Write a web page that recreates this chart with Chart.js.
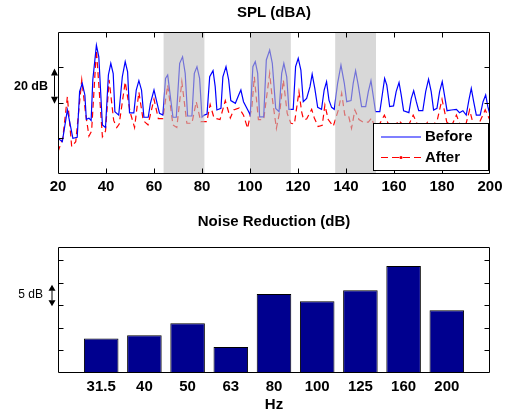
<!DOCTYPE html>
<html>
<head>
<meta charset="utf-8">
<script src="https://cdn.jsdelivr.net/npm/chart.js@4"></script>
<style>
  html, body { margin: 0; padding: 0; background: #fff; overflow: hidden; }
  canvas { position: absolute; left: 0; }
  #spl { top: 0; }
  #nr { top: 205px; }
</style>
</head>
<body>
<canvas id="spl" width="513" height="205"></canvas>
<canvas id="nr" width="513" height="207"></canvas>
<script>
const FONT = "'Liberation Sans', Arial, Helvetica, sans-serif";

// SPL spectrum (dBA, no numbers on the axis, 20 dB between ticks)
const beforeHz = [20,21.8,23.9,26.2,28,29,30.1,31.2,31.8,32.9,
  33.8,34.5,36,37,38.5,39.8,41,42,43,43.7,
  45.3,46.8,48,49,49.8,51.6,52.6,53.7,54.8,55.8,
  57.6,58.5,60,61.3,62.3,63.7,64.8,65.7,67.9,69.3,
  70.7,71.9,73,74,75.8,76.8,77.9,79,80,80.9,
  82.1,83.2,84.6,85.5,86.2,87.9,88.7,90,91.1,92,
  93.9,95.3,96.2,97.3,99.4,100.1,101.2,102.2,103.2,104,
  105.7,106.8,108.2,109.3,110.7,112.1,113.2,114.1,115.3,116.2,
  118,119,120.1,121.2,122.2,123.6,125,125.9,127,128.2,
  129.8,130.9,131.9,132.9,134,135.1,136.5,137.9,139.3,140.3,
  142.1,143,144,145.1,146.5,148.2,149.3,150.4,151.4,152.3,
  154.1,155.1,156.1,157,158.2,159.8,160.9,162.1,163,164,
  166.2,167.2,168.2,169.3,170.3,172,173.2,174.4,175.5,176.5,
  177.9,179,180.1,181.1,182.1,183.9,186,187.3,188.7,190.1,
  191.2,192.2,193.2,194.3,195.9,197.1,198.2,199.1,200];
const beforeDb = [19.9,18,35.9,19.9,20.5,46.3,51,44.4,30.6,31.3,
  30,52.9,72.6,66,27.4,26,55.7,62.3,56.5,34.9,
  33,54.7,63.2,57.5,34.3,34.3,47.2,52.5,47.2,31.8,
  31.8,39.7,47.2,39.7,34,33,53.8,55.7,31.8,31.8,
  62.3,66,56.6,32.5,32.5,56.6,60.4,53.8,31.8,33,
  33.6,54.7,58.1,49.1,35.9,36.8,54.7,60.4,53,41.2,
  39.7,44.4,47.2,40.6,35,33,60.4,63.2,56.6,32,
  32,64.2,69.8,62.3,36.8,35,56.6,62.3,54.7,36.3,
  36.3,60.4,65.1,58.5,40.6,42.5,49.1,56.2,48.1,37.4,
  36.3,47.2,51.9,41.5,37.4,36.3,51,61.3,51,40.6,
  41.2,51,58.1,50,37.8,37.8,46.3,52.5,43.4,35,
  35,44.4,53.8,50,37.8,38.2,46.3,51.4,44.4,35.5,
  34.4,42.5,46.8,40.6,35.5,35.5,46.3,53.3,46.3,35.9,
  36.8,46.3,51.9,43.8,35.5,35.9,36.3,34.4,35.5,33,
  41.5,48.1,40.6,33,33,40.6,44.4,37.8,33];

const afterHz = [20,22,23.9,25.7,27.4,29.9,31.5,32.9,34,36,
  38.5,39.8,41.3,43.2,44.5,45.5,48,50,51.9,53.7,
  55.5,57.5,60,61.8,63.7,65.7,67.9,69.5,71.6,73.7,
  75.8,77.6,79.5,82,83.4,85,87.5,89.7,91.8,93.2,
  95.5,97.3,99,100.8,101.8,103.5,105.7,108.2,109.2,111,
  112.5,113.9,115.5,117,118.5,120.4,121.5,122.3,123.6,125.7,
  126.8,128.4,130.1,131.2,132.6,134.7,136.8,138.2,139.5,141,
  142.3,143.7,145.4,147.2,149.3,150.7,152,154,156,158,
  160,162,164,166,168,170,172,174,176,178,
  180,182,184,186,188,190,191.5,193,195,198,200];
const afterDb = [12.3,20,43.4,15.2,18,52.9,34,21.2,24,69.8,
  20.8,24,52.9,30,26,28,51.7,35,26,46,
  30,27.5,42,31,31,50,27.4,26,51.9,28.4,
  28.4,40.6,29.3,29.3,39,31.4,30.5,41.2,31.4,35.9,
  37,33,25.5,37.8,54.7,30.5,30.5,56.6,43.4,25.5,
  35.9,52.9,34,28.4,28,46.3,35,30.5,30.8,36.3,
  31.4,26.5,27.2,38.7,30.5,26.7,35.9,45.3,33,33,
  25.5,35.9,30.5,29,29,31.4,26,28,33,27,
  26,30,27,27,33,27,26,29,27,30,
  42,29,27,33,26,28,36,28,27,36,30];

// shaded frequency ranges
const bandLo = [64, 100, 135.5];
const bandHi = [81, 117, 152.5];
const splTicks = [20, 40, 60];

// noise reduction per 1/3 octave band
const bandNames = ['31.5', '40', '50', '63', '80', '100', '125', '160', '200'];
const reduction = [7.6, 8.3, 11, 5.7, 17.5, 15.9, 18.3, 23.7, 13.9];
const nrTicks = [5, 10, 15, 20, 25];

const tickFont = { family: FONT, size: 15, weight: 'bold', lineHeight: 1.2 };

function arrow(ctx, x, y1, y2, head, half) {
  ctx.beginPath();
  ctx.moveTo(x, y1 + head); ctx.lineTo(x, y2 - head);
  ctx.stroke();
  ctx.beginPath();
  ctx.moveTo(x, y1); ctx.lineTo(x - half, y1 + head); ctx.lineTo(x + half, y1 + head); ctx.closePath();
  ctx.moveTo(x, y2); ctx.lineTo(x - half, y2 - head); ctx.lineTo(x + half, y2 - head); ctx.closePath();
  ctx.fill();
}

function drawFrame(chart, xTicks, yTicks) {
  const {ctx, chartArea: a, scales} = chart;
  const L = Math.round(a.left) + 0.5, R = Math.round(a.right) - 0.5;
  const T = Math.round(a.top) + 0.5, B = Math.round(a.bottom) - 0.5;
  ctx.save();
  ctx.strokeStyle = '#000';
  ctx.lineWidth = 1;
  ctx.beginPath();
  ctx.rect(L, T, R - L, B - T);
  xTicks.forEach(v => {
    const px = Math.round(scales.x.getPixelForValue(v)) + 0.5;
    ctx.moveTo(px, T); ctx.lineTo(px, T + 5);
    ctx.moveTo(px, B); ctx.lineTo(px, B - 5);
  });
  yTicks.forEach(v => {
    const py = Math.round(scales.y.getPixelForValue(v)) + 0.5;
    ctx.moveTo(L, py); ctx.lineTo(L + 5, py);
    ctx.moveTo(R, py); ctx.lineTo(R - 5, py);
  });
  ctx.stroke();
  ctx.restore();
}

// grey patches drawn over the lines, so the lines show through faded
const bandShade = {
  id: 'bandShade',
  afterDatasetsDraw(chart) {
    const {ctx, chartArea: a, scales: {x}} = chart;
    ctx.save();
    ctx.fillStyle = 'rgba(190,190,190,0.6)';
    bandLo.forEach((lo, i) => {
      const x0 = x.getPixelForValue(lo), x1 = x.getPixelForValue(bandHi[i]);
      ctx.fillRect(x0, a.top, x1 - x0, a.bottom - a.top);
    });
    ctx.restore();
  }
};

const splDecor = {
  id: 'splDecor',
  afterDraw(chart) {
    const {ctx, scales: {y}} = chart;
    drawFrame(chart, [40, 60, 80, 100, 120, 140, 160, 180], splTicks);

    // legend box, bottom right
    ctx.save();
    ctx.fillStyle = '#fff';
    ctx.fillRect(373, 123, 116, 48);
    ctx.strokeStyle = '#000';
    ctx.lineWidth = 1;
    ctx.strokeRect(373.5, 123.5, 115, 47);
    ctx.lineWidth = 1.2;
    ctx.strokeStyle = '#0000ff';
    ctx.beginPath(); ctx.moveTo(381, 137); ctx.lineTo(421, 137); ctx.stroke();
    ctx.strokeStyle = '#ff0000';
    ctx.setLineDash([7, 4]);
    ctx.beginPath(); ctx.moveTo(381, 157.5); ctx.lineTo(421, 157.5); ctx.stroke();
    ctx.setLineDash([]);
    ctx.fillStyle = '#ff0000';
    ctx.beginPath(); ctx.arc(401, 157.5, 1.6, 0, Math.PI * 2); ctx.fill();
    ctx.fillStyle = '#000';
    ctx.font = 'bold 15px ' + FONT;
    ctx.textBaseline = 'middle';
    ctx.textAlign = 'left';
    ctx.fillText('Before', 425, 137);
    ctx.fillText('After', 425, 157.5);

    // 20 dB scale marker
    const y1 = y.getPixelForValue(60), y2 = y.getPixelForValue(40);
    ctx.strokeStyle = '#000';
    ctx.lineWidth = 1;
    arrow(ctx, 54.5, y1 + 1, y2 + 1, 7, 3.5);
    ctx.font = 'bold 12.5px ' + FONT;
    ctx.textAlign = 'right';
    ctx.fillText('20 dB', 48, (y1 + y2) / 2 + 1);
    ctx.restore();
  }
};

const nrDecor = {
  id: 'nrDecor',
  afterDraw(chart) {
    const {ctx, scales: {y}} = chart;
    drawFrame(chart, [], nrTicks);
    const y1 = y.getPixelForValue(20), y2 = y.getPixelForValue(15);
    ctx.save();
    ctx.strokeStyle = '#000';
    ctx.fillStyle = '#000';
    ctx.lineWidth = 1;
    arrow(ctx, 52, y1 + 2, y2 + 1, 6, 3.5);
    ctx.font = '12px ' + FONT;
    ctx.textAlign = 'right';
    ctx.textBaseline = 'middle';
    ctx.fillText('5 dB', 43, (y1 + y2) / 2 + 1);
    ctx.restore();
  }
};

new Chart(document.getElementById('spl'), {
  type: 'line',
  data: {
    datasets: [
      { label: 'Before', data: beforeHz.map((f, i) => ({ x: f, y: beforeDb[i] })),
        borderColor: '#0000ff', borderWidth: 1.2, pointRadius: 0, tension: 0 },
      { label: 'After', data: afterHz.map((f, i) => ({ x: f, y: afterDb[i] })),
        borderColor: '#ff0000', borderWidth: 1.2, borderDash: [6, 4], pointRadius: 0, tension: 0 }
    ]
  },
  options: {
    responsive: false,
    animation: false,
    events: [],
    layout: { padding: { left: 58, right: 23, top: 0, bottom: 0 } },
    plugins: {
      legend: { display: false },
      tooltip: { enabled: false },
      title: { display: true, text: 'SPL (dBA)', color: '#000', font: tickFont, padding: { top: 4, bottom: 10 } }
    },
    scales: {
      x: {
        type: 'linear', min: 20, max: 200,
        ticks: { stepSize: 20, color: '#000', font: tickFont, padding: 4, maxRotation: 0, autoSkip: false },
        grid: { display: false, drawTicks: false },
        border: { display: false },
        afterFit: s => { s.height = 31.5; }
      },
      y: { display: false, min: 0, max: 80 }
    }
  },
  plugins: [bandShade, splDecor]
});

new Chart(document.getElementById('nr'), {
  type: 'bar',
  data: {
    labels: ['', ...bandNames, ''],
    datasets: [{
      data: [null, ...reduction, null],
      backgroundColor: '#00008f',
      borderColor: '#000',
      borderWidth: 1,
      categoryPercentage: 1,
      barPercentage: 0.8
    }]
  },
  options: {
    responsive: false,
    animation: false,
    events: [],
    layout: { padding: { left: 58, right: 23, top: 0, bottom: 0 } },
    plugins: {
      legend: { display: false },
      tooltip: { enabled: false },
      title: { display: true, text: 'Noise Reduction (dB)', color: '#000', font: tickFont, padding: { top: 8, bottom: 15.7 } }
    },
    scales: {
      x: {
        offset: false,
        ticks: { color: '#000', font: tickFont, padding: 5, maxRotation: 0, autoSkip: false },
        grid: { display: false, drawTicks: false },
        border: { display: false },
        title: { display: true, text: 'Hz', color: '#000', font: { family: FONT, size: 15, weight: 'bold', lineHeight: 1 }, padding: { top: 0, bottom: 0 } },
        afterFit: s => { s.height = 39.3; }
      },
      y: { display: false, min: 0, max: 28 }
    }
  },
  plugins: [nrDecor]
});
</script>
</body>
</html>
